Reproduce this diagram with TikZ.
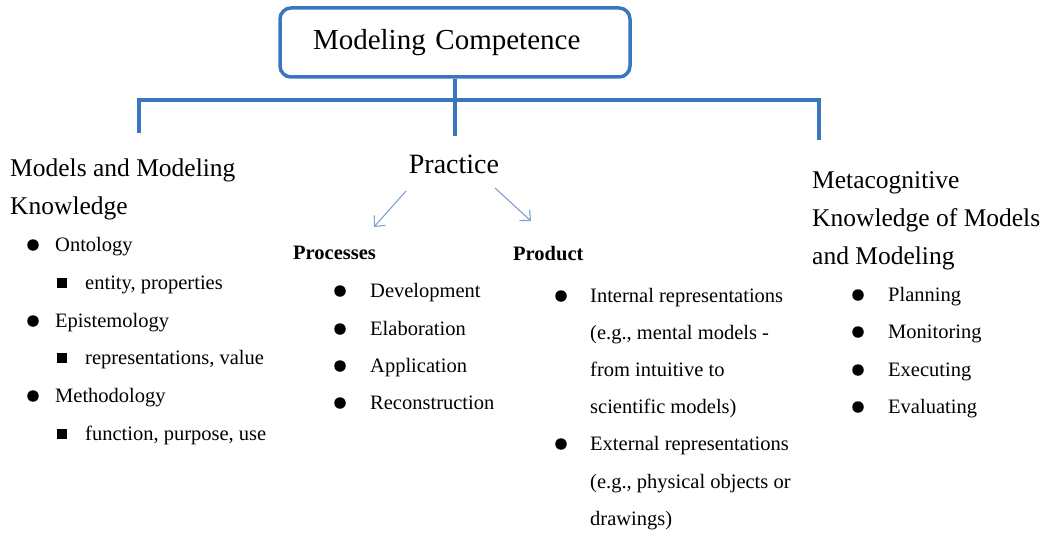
\documentclass[tikz,border=0pt]{standalone}
\usepackage{fontspec}
\setmainfont{Liberation Serif}
\usetikzlibrary{arrows.meta}
\definecolor{lineblue}{RGB}{58,118,192}
\definecolor{arrowblue}{RGB}{125,160,205}
\tikzset{
  conn/.style={draw=lineblue, line width=3.3pt, line join=miter},
  titlebox/.style={draw=lineblue, line width=3.5pt, rounded corners=11pt, minimum width=350pt, minimum height=69pt, inner xsep=33pt, text width=284pt, align=left, font=\fontsize{29}{34}\selectfont},
  head/.style={anchor=base west, inner sep=0pt, font=\fontsize{25.5}{30}\selectfont},
  prac/.style={anchor=base, inner sep=0pt, font=\fontsize{28}{33}\selectfont},
  sub/.style={anchor=base west, inner sep=0pt, font=\fontsize{20.5}{24}\selectfont\bfseries},
  item/.style={anchor=base west, inner sep=0pt, font=\fontsize{20.5}{24}\selectfont},
  dot/.style={circle, fill=black, inner sep=0pt, minimum size=11.5pt},
  sq/.style={rectangle, fill=black, inner sep=0pt, minimum size=10.5pt},
  parrow/.style={draw=arrowblue, line width=1.1pt, -{Straight Barb[length=8pt,width=15pt,line width=1.1pt]}}
}
\begin{document}
\begin{tikzpicture}[x=1pt,y=-1pt]
\useasboundingbox (0,0) rectangle (1047,535);
% title
\node[titlebox] (title) at (455,42.5) {Modeling Competence};
% connector tree
\coordinate (hL) at (139,100);
\coordinate (hM) at (455,100);
\coordinate (hR) at (819,100);
\coordinate (eL) at (139,133);
\coordinate (eM) at (455,136);
\coordinate (eR) at (819,140);
\draw[conn] (title.south) -- (eM);
\draw[conn] (eL) -- (hL) -- (hR) -- (eR);

% left column
\node[head] (mmk1) at (10,176) {Models and Modeling};
\node[head] (mmk2) at (10,214) {Knowledge};
\node[dot] (b1) at (33,245) {};
\node[item] (t1) at (55,251) {Ontology};
\node[sq] (s1) at (62,283) {};
\node[item] (t2) at (85,289) {entity, properties};
\node[dot] (b2) at (33,321) {};
\node[item] (t3) at (55,327) {Epistemology};
\node[sq] (s2) at (62,358) {};
\node[item] (t4) at (85,364) {representations, value};
\node[dot] (b3) at (33,396) {};
\node[item] (t5) at (55,402) {Methodology};
\node[sq] (s3) at (62,434) {};
\node[item] (t6) at (85,440) {function, purpose, use};

% practice
\node[prac] (practice) at (454,173) {Practice};
\coordinate (a1s) at (406,191);
\coordinate (a1e) at (374,227);
\coordinate (a2s) at (495,188);
\coordinate (a2e) at (531,221);
\draw[parrow] (a1s) -- (a1e);
\draw[parrow] (a2s) -- (a2e);

\node[sub] (proc) at (293,259) {Processes};
\node[dot] (p1) at (340,291) {};
\node[item] (pt1) at (370,297) {Development};
\node[dot] (p2) at (340,329) {};
\node[item] (pt2) at (370,335) {Elaboration};
\node[dot] (p3) at (340,366) {};
\node[item] (pt3) at (370,372) {Application};
\node[dot] (p4) at (340,403) {};
\node[item] (pt4) at (370,409) {Reconstruction};

\node[sub] (prod) at (513,260) {Product};
\node[dot] (q1) at (561,296) {};
\node[item] (qt1) at (590,302) {Internal representations};
\node[item] (qt2) at (590,339) {(e.g., mental models -};
\node[item] (qt3) at (590,376) {from intuitive to};
\node[item] (qt4) at (590,413) {scientific models)};
\node[dot] (q2) at (561,444) {};
\node[item] (qt5) at (590,450) {External representations};
\node[item] (qt6) at (590,488) {(e.g., physical objects or};
\node[item] (qt7) at (590,525) {drawings)};

% right column
\node[head] (mk1) at (812,188) {Metacognitive};
\node[head] (mk2) at (812,226) {Knowledge of Models};
\node[head] (mk3) at (812,264) {and Modeling};
\node[dot] (m1) at (858,295) {};
\node[item] (mt1) at (888,301) {Planning};
\node[dot] (m2) at (858,332) {};
\node[item] (mt2) at (888,338) {Monitoring};
\node[dot] (m3) at (858,370) {};
\node[item] (mt3) at (888,376) {Executing};
\node[dot] (m4) at (858,407) {};
\node[item] (mt4) at (888,413) {Evaluating};
\end{tikzpicture}
\end{document}
